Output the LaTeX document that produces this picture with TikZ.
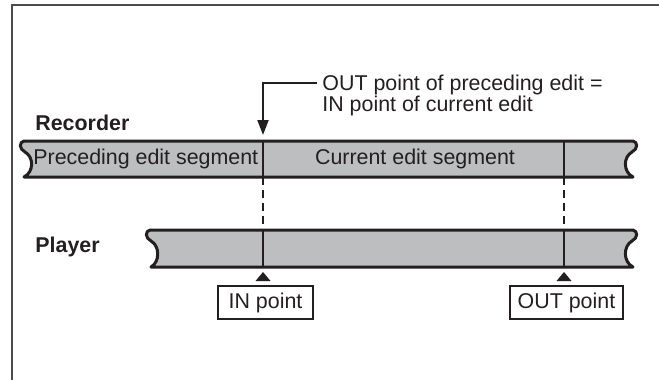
\documentclass[tikz,border=0pt]{standalone}
\usepackage{fontspec}
\setmainfont{Liberation Sans}
\usetikzlibrary{arrows.meta,positioning}
\definecolor{inkc}{HTML}{231F20}
\definecolor{tapec}{HTML}{BCBEC0}

\begin{document}
\begin{tikzpicture}[x=0.5pt,y=-0.5pt,>=Latex,
  txt/.style={font=\fontsize{10.7}{10.5}\selectfont,text=inkc,inner sep=0pt},
  lbl/.style={txt,font=\fontsize{10.7}{10.5}\selectfont\bfseries},
  tapestrip/.style={draw=inkc,fill=tapec,line width=1.5pt,line join=round},
  cut/.style={draw=inkc,line width=0.7pt},
  guide/.style={draw=inkc,line width=0.9pt,dash pattern=on 4pt off 2.5pt},
  ptbox/.style={txt,draw=inkc,line width=0.6pt,minimum height=16.5pt}]
\useasboundingbox (0,0) rectangle (659,380);
\draw[black!70,line width=1pt] (12,380) -- (12,5) -- (659,5);
% tapes
\draw[tapestrip] (24,141) -- (633,141) .. controls (638,142) and (638,149) .. (632,152) .. controls (623,157) and (623,172) .. (633,177) -- (24,177) .. controls (34,172) and (34,157) .. (25,152) .. controls (19,149) and (19,142) .. (24,141) -- cycle;
\draw[tapestrip] (150,230) -- (633,230) .. controls (638,231) and (638,238) .. (632,241) .. controls (623,246) and (623,262) .. (633,267) -- (151,267) .. controls (160,262) and (160,246) .. (151,241) .. controls (145,238) and (145,231) .. (150,230) -- cycle;
\coordinate (rec_in_top) at (263,141);
\coordinate (rec_in_bot) at (263,177);
\coordinate (ply_in_top) at (263,230);
\coordinate (ply_in_bot) at (263,267);
\coordinate (rec_out_top) at (564,141);
\coordinate (rec_out_bot) at (564,177);
\coordinate (ply_out_top) at (564,230);
\coordinate (ply_out_bot) at (564,267);
\draw[cut] (rec_in_top) -- (rec_in_bot);
\draw[cut] (rec_out_top) -- (rec_out_bot);
\draw[cut] (ply_in_top) -- (ply_in_bot);
\draw[cut] (ply_out_top) -- (ply_out_bot);
\draw[guide] (rec_in_bot) -- (ply_in_top);
\draw[guide] (rec_out_bot) -- (ply_out_top);
% labels
\node[lbl,anchor=base west] (rec_label) at (35,130) {Recorder};
\node[lbl,anchor=base west] (ply_label) at (35,252) {Player};
\node[txt,anchor=base west] (rec_prev) at (33,164) {Preceding edit segment};
\node[txt,anchor=base] (rec_cur) at (415,164) {Current edit segment};
% markers
\fill[inkc] (263,272) -- (255.5,281) -- (270.5,281) -- cycle;
\fill[inkc] (564,272) -- (556.5,281) -- (571.5,281) -- cycle;
\node[ptbox,minimum width=47.5pt] (in_box) at (265.5,302.5) {IN point};
\node[ptbox,minimum width=56.5pt] (out_box) at (566.5,302.5) {OUT point};
% edit point note
\node[txt,anchor=north west,align=left] (note) at (322,74.5) {OUT point of preceding edit =\\IN point of current edit};
\coordinate (note_end) at (317,83);
\coordinate (edit_tip) at (263,135);
\draw[inkc,line width=1pt,-{Triangle[length=7.5pt,width=5.5pt]}] (note_end) -| (edit_tip);
\end{tikzpicture}
\end{document}
